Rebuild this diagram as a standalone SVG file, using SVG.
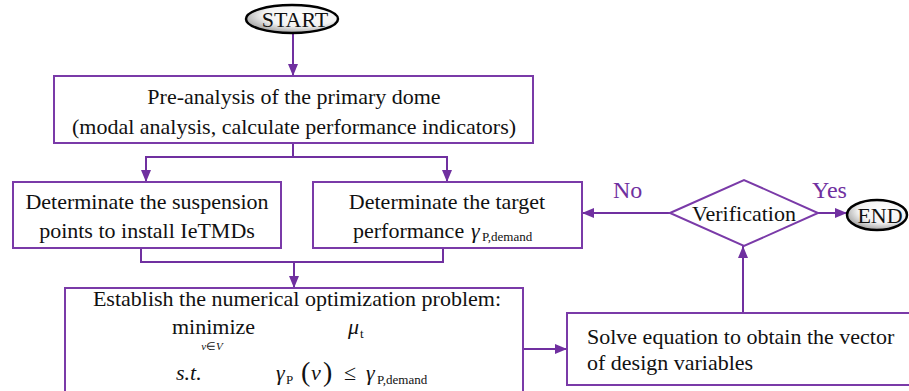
<svg xmlns="http://www.w3.org/2000/svg" width="909" height="391" viewBox="0 0 909 391">
  <style>
    .box { fill: #ffffff; stroke: #7a3aa8; stroke-width: 2; }
    .wire { fill: none; stroke: #7030a0; stroke-width: 2; }
    .term { stroke: #000000; stroke-width: 2.5; }
    text { font-family: "Liberation Serif", "Times New Roman", serif; font-size: 22px; fill: #111111; }
    .mid { text-anchor: middle; }
    .it { font-style: italic; }
    .sub { font-size: 13px; }
    .tiny { font-size: 11px; }
    .lbl { fill: #7030a0; font-size: 24px; }
    .paren { font-size: 28px; }
  </style>
  <defs>
    <marker id="arrow" viewBox="0 0 12 10" refX="12" refY="5" markerWidth="12" markerHeight="10" markerUnits="userSpaceOnUse" orient="auto">
      <path d="M0,0 L12,5 L0,10 Z" fill="#7030a0"/>
    </marker>
    <radialGradient id="pill" cx="0.6" cy="0.35" r="0.75">
      <stop offset="0" stop-color="#ffffff"/>
      <stop offset="0.55" stop-color="#f2f2f2"/>
      <stop offset="1" stop-color="#8a8a8a"/>
    </radialGradient>
  </defs>

  <!-- connectors -->
  <g id="connectors">
    <line class="wire" x1="293" y1="33" x2="293" y2="76" marker-end="url(#arrow)"/>
    <polyline class="wire" points="293,143 293,157 146,157 146,182" marker-end="url(#arrow)"/>
    <polyline class="wire" points="293,157 447,157 447,182" marker-end="url(#arrow)"/>
    <polyline class="wire" points="141,248 141,262 443,262 443,248"/>
    <line class="wire" x1="294" y1="262" x2="294" y2="288" marker-end="url(#arrow)"/>
    <line class="wire" x1="523" y1="349" x2="567" y2="349" marker-end="url(#arrow)"/>
    <line class="wire" x1="743" y1="313" x2="743" y2="246" marker-end="url(#arrow)"/>
    <line class="wire" x1="670" y1="213" x2="582" y2="213" marker-end="url(#arrow)"/>
    <line class="wire" x1="818" y1="213" x2="847" y2="213" marker-end="url(#arrow)"/>
    <text class="lbl" x="613" y="198">No</text>
    <text class="lbl" x="812" y="198">Yes</text>
  </g>

  <!-- start terminal -->
  <g id="start">
    <ellipse class="term" cx="292" cy="19" rx="46" ry="14" fill="url(#pill)"/>
    <text class="mid" x="295" y="27" font-size="23">START</text>
  </g>

  <!-- pre-analysis -->
  <g id="pre-analysis">
    <rect class="box" x="54" y="76" width="479" height="67"/>
    <text class="mid" x="294" y="104">Pre-analysis of the primary dome</text>
    <text class="mid" x="294" y="134">(modal analysis, calculate performance indicators)</text>
  </g>

  <!-- suspension points -->
  <g id="suspension-points">
    <rect class="box" x="13" y="182" width="268" height="66"/>
    <text class="mid" x="147" y="209">Determinate the suspension</text>
    <text class="mid" x="147" y="238">points to install IeTMDs</text>
  </g>

  <!-- target performance -->
  <g id="target-performance">
    <rect class="box" x="313" y="182" width="269" height="66"/>
    <text class="mid" x="447" y="209">Determinate the target</text>
    <text x="353" y="238">performance</text>
    <text class="it" x="471" y="238">γ</text>
    <text class="sub" x="482" y="241" font-size="14">P,demand</text>
  </g>

  <!-- optimization problem -->
  <g id="optimization-problem">
    <rect class="box" x="65" y="288" width="458" height="130"/>
    <text class="mid" x="297" y="306">Establish the numerical optimization problem:</text>
    <text x="172" y="334">minimize</text>
    <text class="mid tiny" x="212" y="350"><tspan class="it">ν</tspan>∈<tspan class="it">V</tspan></text>
    <text class="it" x="348" y="334">μ</text>
    <text class="sub" x="360" y="338">t</text>
    <text class="it" x="176" y="380">s.t.</text>
    <text class="it" x="276" y="380">γ</text>
    <text class="sub" x="286" y="384">P</text>
    <text class="paren" x="301" y="381">(</text>
    <text class="it" x="311" y="380">ν</text>
    <text class="paren" x="323" y="381">)</text>
    <text x="344" y="380">≤</text>
    <text class="it" x="366" y="380">γ</text>
    <text class="sub" x="377" y="384" font-size="14">P,demand</text>
  </g>

  <!-- verification -->
  <g id="verification">
    <polygon class="box" points="670,213 744,180 818,213 744,246"/>
    <text class="mid" x="744" y="221">Verification</text>
  </g>

  <!-- end terminal -->
  <g id="end">
    <ellipse class="term" cx="877" cy="215" rx="30" ry="15" fill="url(#pill)"/>
    <text class="mid" x="880" y="223">END</text>
  </g>

  <!-- solve -->
  <g id="solve">
    <rect class="box" x="567" y="313" width="352" height="72"/>
    <text x="587" y="344">Solve equation to obtain the vector</text>
    <text x="587" y="370">of design variables</text>
  </g>
</svg>
